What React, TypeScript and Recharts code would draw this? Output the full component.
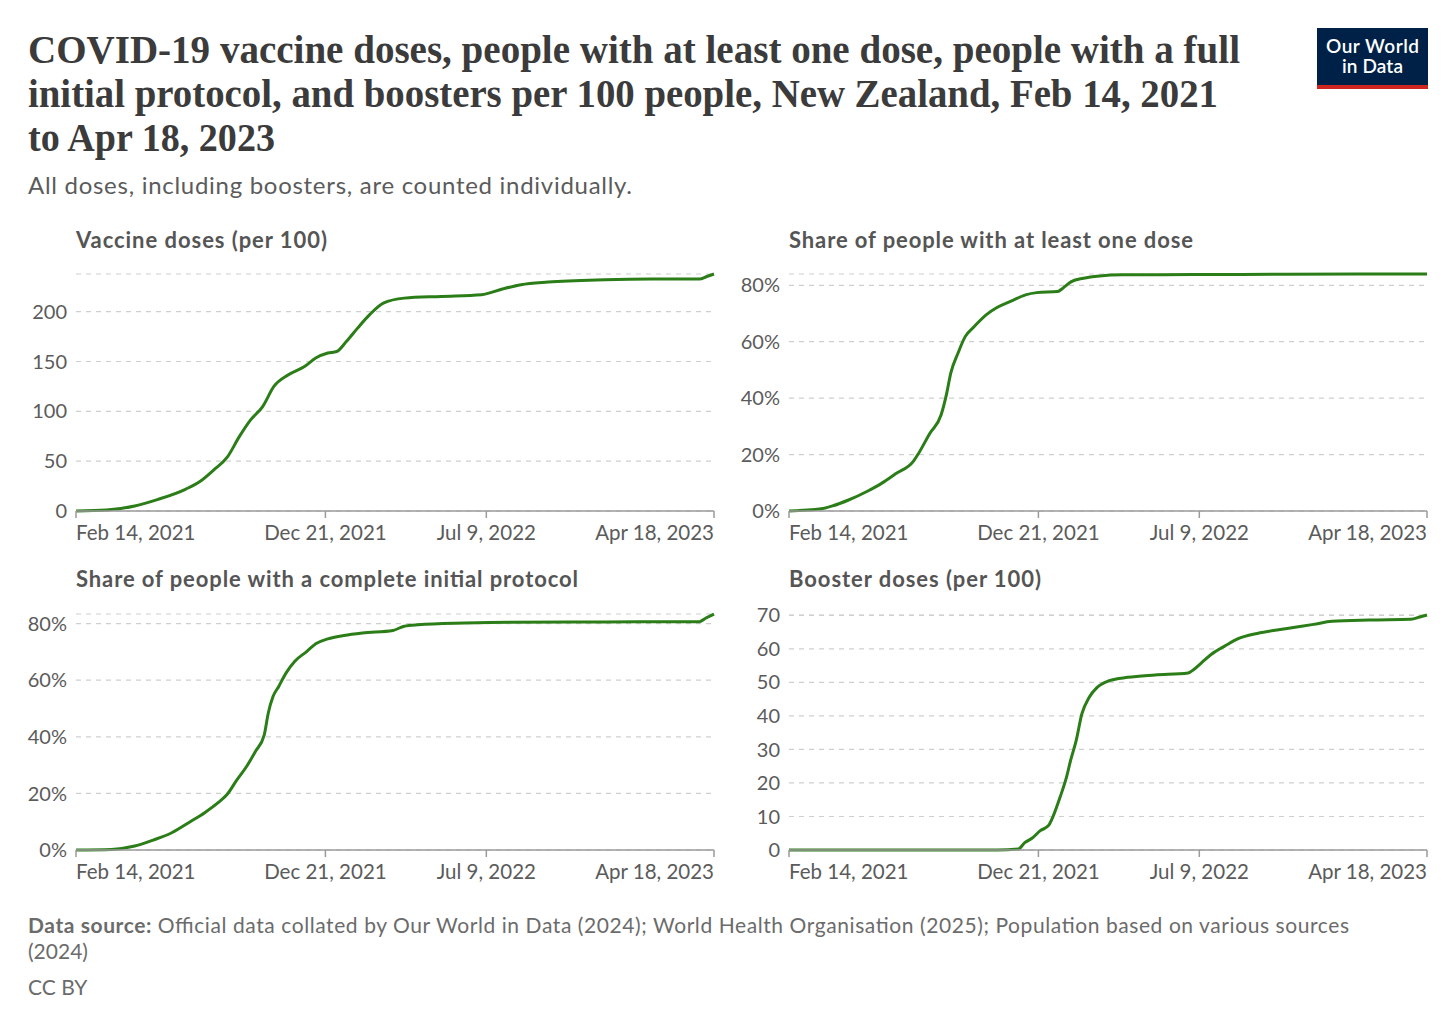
import { CartesianGrid, Line, LineChart, XAxis, YAxis } from "recharts";

// x positions are days since Feb 14, 2021
const dayTicks = [0, 310, 510, 793];
const dayLabels = ["Feb 14, 2021", "Dec 21, 2021", "Jul 9, 2022", "Apr 18, 2023"];

const dosesDays = [0, 38, 73, 102, 136, 154, 171, 188, 203, 217, 232, 246, 264, 284, 298, 313, 324, 336, 350, 365, 382, 408, 454, 504, 530, 553, 587, 657, 715, 775, 784, 793];
const dosesValues = [0, 1, 5, 11.7, 21.8, 29.5, 41, 54, 74.6, 91.4, 104.8, 125, 136.7, 145, 153.5, 158.5, 160, 170, 183.5, 197, 208.6, 213.6, 215.3, 217, 222.7, 227, 229.7, 232, 232.7, 232.7, 235.3, 237.8];

const oneDoseDays = [0, 40, 54, 74, 98, 115, 132, 155, 161, 175, 189, 196, 201, 210, 219, 230, 245, 259, 276, 294, 308, 334, 340, 351, 366, 386, 415, 502, 617, 793];
const oneDoseValues = [0, 0.8, 1.8, 3.9, 7.1, 9.8, 13.1, 17.8, 20.4, 27.5, 34, 41.7, 48.8, 55.9, 61.8, 65.3, 69.5, 72.2, 74.4, 76.6, 77.4, 77.8, 78.9, 81.3, 82.5, 83.3, 83.7, 83.8, 83.9, 84.0];

const fullDays = [0, 44, 73, 96, 119, 142, 160, 177, 188, 200, 212, 223, 234, 239, 245, 252, 261, 272, 287, 298, 313, 333, 356, 394, 408, 425, 483, 541, 657, 775, 783, 793];
const fullValues = [0, 0.2, 1.4, 3.5, 6.1, 10, 13.2, 16.8, 19.7, 24.8, 29.5, 34.8, 40.7, 48.4, 54.3, 57.8, 62.5, 66.7, 70.2, 72.9, 74.6, 75.8, 76.7, 77.6, 79.1, 79.6, 80.2, 80.5, 80.6, 80.7, 82, 83.4];

const boosterDays = [0, 259, 285, 293, 302, 312, 323, 328, 337, 345, 350, 357, 364, 373, 383, 398, 421, 455, 496, 504, 513, 525, 542, 559, 582, 617, 652, 675, 721, 773, 784, 793];
const boosterValues = [0, 0, 0.3, 2.2, 3.5, 5.7, 7.4, 9.9, 15.8, 21.8, 26.7, 32.7, 40.6, 45.5, 48.5, 50.5, 51.5, 52.2, 52.8, 54, 55.9, 58.4, 60.9, 63.1, 64.6, 66, 67.3, 68.2, 68.6, 68.8, 69.5, 70.1];

const dosesTicks = [0, 50, 100, 150, 200];
const shareTicks = [0, 20, 40, 60, 80];
const boosterTicks = [0, 10, 20, 30, 40, 50, 60, 70];

const GREEN = "#2b7d18";
const FONT = "Lato, 'Noto Sans', sans-serif";
const TOP_PAD = 20;

const rows = (days: number[], values: number[]) => days.map((d, i) => ({ day: d, v: values[i] }));

function XTick(props: any) {
  const { x, y, payload, index } = props;
  const anchor = index === 0 ? "start" : index === dayTicks.length - 1 ? "end" : "middle";
  return (
    <text x={x} y={y} dy={20} textAnchor={anchor} fontSize={20.5} fill="#5b5b5b" fontFamily={FONT}>
      {dayLabels[dayTicks.indexOf(payload.value)]}
    </text>
  );
}

function Panel({
  left,
  plotTop,
  plotHeight,
  days,
  values,
  ticks,
  unit = "",
}: {
  left: number;
  plotTop: number;
  plotHeight: number;
  days: number[];
  values: number[];
  ticks: number[];
  unit?: string;
}) {
  const yMax = Math.max(...values);
  return (
    <div style={{ position: "absolute", left, top: plotTop - TOP_PAD }}>
      <LineChart
        width={724}
        height={TOP_PAD + plotHeight + 40}
        data={rows(days, values)}
        margin={{ top: TOP_PAD, right: 10, bottom: 0, left: 0 }}
      >
        <CartesianGrid stroke="#cfcfcf" strokeWidth={1.2} strokeDasharray="5 5" vertical={false} />
        <XAxis
          dataKey="day"
          type="number"
          domain={[0, 793]}
          ticks={dayTicks}
          height={40}
          axisLine={{ stroke: "#9a9a9a", strokeWidth: 1.5 }}
          tickLine={{ stroke: "#9a9a9a", strokeWidth: 1.5 }}
          tickSize={7}
          tickMargin={2}
          tick={<XTick />}
          interval={0}
        />
        <YAxis
          width={76}
          domain={[0, yMax]}
          ticks={ticks}
          axisLine={false}
          tickLine={false}
          tickSize={0}
          tickMargin={9}
          interval={0}
          tick={{ fontSize: 20, fill: "#5b5b5b", fontFamily: FONT }}
          tickFormatter={(v) => `${v}${unit}`}
        />
        <Line
          type="monotone"
          dataKey="v"
          stroke={GREEN}
          strokeWidth={3}
          dot={false}
          isAnimationActive={false}
        />
      </LineChart>
    </div>
  );
}

export default function App() {
  const textColor = "#5b5b5b";
  return (
    <div
      style={{
        position: "absolute",
        left: 0,
        top: 0,
        width: 1456,
        height: 1028,
        background: "#fff",
        overflow: "hidden",
      }}
    >
      <svg width={1456} height={1028} style={{ position: "absolute", left: 0, top: 0 }}>
        <g fontFamily="'Liberation Serif', serif" fontWeight={700} fontSize={40} fill="#3b3b3b">
          <text x={28} y={63} textLength={1212} lengthAdjust="spacingAndGlyphs">
            COVID-19 vaccine doses, people with at least one dose, people with a full
          </text>
          <text x={28} y={107} textLength={1190} lengthAdjust="spacingAndGlyphs">
            initial protocol, and boosters per 100 people, New Zealand, Feb 14, 2021
          </text>
          <text x={28} y={151} textLength={247} lengthAdjust="spacingAndGlyphs">
            to Apr 18, 2023
          </text>
        </g>
        <text x={28} y={194} fontFamily={FONT} fontSize={24} fill={textColor} textLength={604} lengthAdjust="spacing">
          All doses, including boosters, are counted individually.
        </text>

        <g fontFamily={FONT} fontSize={22} fontWeight={700} fill="#555">
          <text x={76} y={248} textLength={251} lengthAdjust="spacing">Vaccine doses (per 100)</text>
          <text x={789} y={248} textLength={404} lengthAdjust="spacing">Share of people with at least one dose</text>
          <text x={76} y={587} textLength={502} lengthAdjust="spacing">Share of people with a complete initial protocol</text>
          <text x={789} y={587} textLength={252} lengthAdjust="spacing">Booster doses (per 100)</text>
        </g>

        <rect x={1317} y={28} width={111} height={57} fill="#002147" />
        <rect x={1317} y={85} width={111} height={4} fill="#ce261e" />
        <g fontFamily={FONT} fontSize={19} fontWeight={600} fill="#fff" textAnchor="middle">
          <text x={1372.5} y={53} textLength={93} lengthAdjust="spacing">Our World</text>
          <text x={1372.5} y={73} textLength={61} lengthAdjust="spacing">in Data</text>
        </g>

        <g fontFamily={FONT} fontSize={21} fill="#6b6b6b">
          <text x={28} y={933} textLength={1321} lengthAdjust="spacing">
            <tspan fontWeight={700}>Data source: </tspan>
            Official data collated by Our World in Data (2024); World Health Organisation (2025); Population based on various sources
          </text>
          <text x={28} y={959}>(2024)</text>
          <text x={28} y={995}>CC BY</text>
        </g>
      </svg>

      <Panel left={0} plotTop={274} plotHeight={237} days={dosesDays} values={dosesValues} ticks={dosesTicks} />
      <Panel left={713} plotTop={274} plotHeight={237} days={oneDoseDays} values={oneDoseValues} ticks={shareTicks} unit="%" />
      <Panel left={0} plotTop={614} plotHeight={236} days={fullDays} values={fullValues} ticks={shareTicks} unit="%" />
      <Panel left={713} plotTop={615} plotHeight={235} days={boosterDays} values={boosterValues} ticks={boosterTicks} />
    </div>
  );
}
